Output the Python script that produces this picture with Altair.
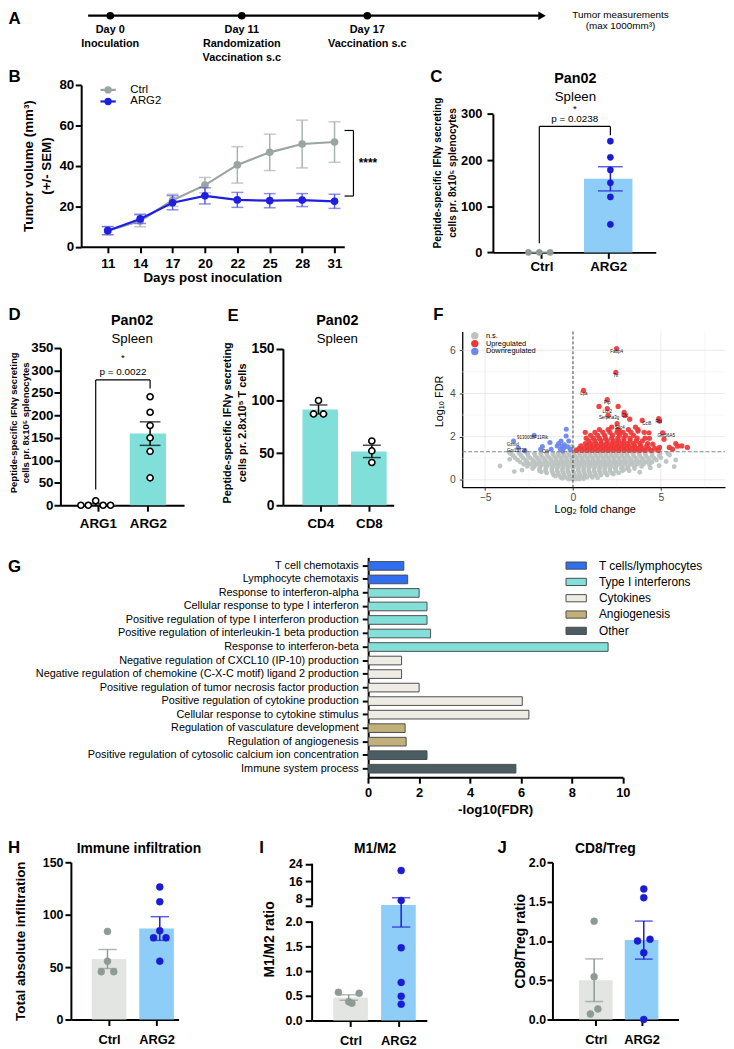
import json
import altair as alt
import pandas as pd

FONT = "Liberation Sans"
W, H = 726, 1041

# ======================= DATA =======================
# A - timeline
a_days = [0, 11, 17]
a_day_labels = ["Day 0", "Day 11", "Day 17"]
a_events = [["Inoculation"], ["Randomization", "Vaccination s.c"], ["Vaccination s.c"]]
a_end_lines = ["Tumor measurements", "(max 1000mm³)"]

# B - tumour growth
b_days = [11, 14, 17, 20, 22, 25, 28, 31]
b_ctrl_mean = [8.0, 12.8, 23.0, 30.5, 40.5, 46.7, 50.8, 51.8]
b_ctrl_sem = [2.0, 2.9, 3.0, 3.8, 9.0, 9.0, 11.8, 10.0]
b_arg2_mean = [8.0, 13.8, 21.8, 25.2, 23.2, 22.8, 23.1, 22.5]
b_arg2_sem = [2.0, 2.3, 3.5, 4.0, 3.7, 3.5, 3.2, 3.5]
b_groups = ["Ctrl", "ARG2"]
b_bracket = [57.5, 25.1]
b_sig = "****"
b_yticks = [0, 20, 40, 60, 80]

# C
c_groups = ["Ctrl", "ARG2"]
c_mean = [0.0, 159.4]
c_sem = [0.0, 26.2]
c_points = [[0, 0, 0], [241, 206, 178.5, 150.6, 120, 60.6]]
c_slots = [[-1, 0, 1], [0, 0, 0, 0, 0, 0]]
c_bracket = [273, 20, 254]
c_pvalue = "p = 0.0238"
c_yticks = [0, 100, 200, 300]

# D
d_groups = ["ARG1", "ARG2"]
d_mean = [2.0, 159.5]
d_sem = [2.0, 26.2]
d_points = [[0, 0, 10, 0, 0], [241.5, 207, 177.6, 150, 120, 61]]
d_slots = [[-2, -1, 0, 1, 2], [0, 0, 0, 0, 0, 0]]
d_bracket = [279, 35, 260]
d_pvalue = "p = 0.0022"
d_yticks = [0, 50, 100, 150, 200, 250, 300, 350]

# E
e_groups = ["CD4", "CD8"]
e_mean = [91.8, 51.6]
e_sem = [4.3, 5.9]
e_points = [[100.4, 87.5, 87.5], [61.6, 52.1, 41.0]]
e_slots = [[0, -1, 1], [0, 0, 0]]
e_yticks = [0, 50, 100, 150]

# F - volcano
f_ns_rows = {
    0.03: [-0.25, -0.05, 0.15, 0.35],
    0.12: [-0.7, -0.45, -0.2, 0.05, 0.3, 0.55, 0.8, 1.1],
    0.22: [-1.1, -0.8, -0.5, -0.2, 0.1, 0.4, 0.7, 1.0, 1.3, 1.6, 1.95],
    0.32: [-1.5, -1.15, -0.85, -0.55, -0.25, 0.05, 0.35, 0.65, 0.95, 1.25, 1.55, 1.85, 2.2, 2.6],
    0.42: [-1.9, -1.55, -1.2, -0.9, -0.6, -0.3, 0.0, 0.3, 0.6, 0.9, 1.2, 1.5, 1.8, 2.1, 2.45, 2.8, 3.2],
    0.52: [-2.3, -1.9, -1.55, -1.2, -0.9, -0.6, -0.3, 0.0, 0.3, 0.6, 0.9, 1.2, 1.5, 1.8, 2.1, 2.4, 2.75, 3.1, 3.5],
    0.62: [-2.6, -2.2, -1.85, -1.5, -1.15, -0.85, -0.55, -0.25, 0.05, 0.35, 0.65, 0.95, 1.25, 1.55, 1.85,
           2.15, 2.45, 2.8, 3.15, 3.5, 3.9],
    0.72: [-2.8, -2.4, -2.05, -1.7, -1.35, -1.0, -0.7, -0.4, -0.1, 0.2, 0.5, 0.8, 1.1, 1.4, 1.7, 2.0, 2.3,
           2.6, 2.95, 3.3, 3.65, 4.0, 4.35],
    0.82: [-3.0, -2.6, -2.2, -1.85, -1.5, -1.15, -0.85, -0.55, -0.25, 0.05, 0.35, 0.65, 0.95, 1.25, 1.55,
           1.85, 2.15, 2.45, 2.75, 3.1, 3.45, 3.8, 4.15, 4.5],
    0.92: [-3.15, -2.7, -2.3, -1.95, -1.6, -1.25, -0.95, -0.65, -0.35, -0.05, 0.25, 0.55, 0.85, 1.15, 1.45,
           1.75, 2.05, 2.35, 2.65, 2.95, 3.3, 3.65, 4.0, 4.35, 4.75],
    1.02: [-3.3, -2.85, -2.45, -2.05, -1.7, -1.35, -1.0, -0.7, -0.4, -0.1, 0.2, 0.5, 0.8, 1.1, 1.4, 1.7,
           2.0, 2.3, 2.6, 2.9, 3.2, 3.55, 3.9, 4.25, 4.6, 5.0],
    1.12: [-3.4, -2.95, -2.55, -2.15, -1.8, -1.45, -1.1, -0.8, -0.5, -0.2, 0.1, 0.4, 0.7, 1.0, 1.3, 1.6,
           1.9, 2.2, 2.5, 2.8, 3.1, 3.45, 3.8, 4.15, 4.5, 4.9],
    1.22: [-3.55, -3.05, -2.6, -2.2, -1.85, -1.5, -1.15, -0.85, -0.55, -0.25, 0.05, 0.35, 0.65, 0.95, 1.25,
           1.55, 1.85, 2.15, 2.45, 2.75, 3.05, 3.4, 3.75, 4.1, 4.5, 4.95, 5.4],
}
f_ns_extra = [(-4.15, 0.64), (-3.34, 0.38), (-2.9, 0.45), (5.76, 0.61), (5.85, 0.92), (5.3, 0.85),
              (4.9, 0.65), (4.4, 0.55), (-3.62, 1.27), (5.5, 1.15), (-0.15, 1.36), (0.1, 1.42),
              (-0.05, 1.55), (0.2, 1.35), (-3.6, 0.95), (3.8, 0.35), (-0.6, 0.07), (0.6, 0.05),
              (1.4, 0.1), (-1.0, 0.17), (2.3, 0.27), (-1.8, 0.37), (2.9, 0.47), (-2.6, 0.78)]
f_up_rows = {
    1.36: [0.2, 0.5, 0.8, 1.1, 1.4, 1.7, 2.0, 2.3, 2.6, 2.9, 3.2, 3.5, 3.8, 4.1, 4.45, 4.85],
    1.46: [0.35, 0.65, 0.95, 1.25, 1.55, 1.85, 2.15, 2.45, 2.75, 3.05, 3.35, 3.65, 3.95, 4.3, 4.65],
    1.57: [0.45, 0.8, 1.1, 1.4, 1.7, 2.0, 2.3, 2.6, 2.9, 3.2, 3.5, 3.85, 4.2],
    1.68: [0.7, 1.0, 1.3, 1.6, 1.9, 2.2, 2.5, 2.8, 3.1, 3.45, 3.8, 4.25],
    1.80: [0.9, 1.25, 1.6, 1.95, 2.3, 2.6, 2.9, 3.25, 3.6, 3.95],
    1.93: [0.75, 1.15, 1.5, 1.85, 2.2, 2.55, 2.9, 3.25, 3.65, 4.1],
    2.06: [1.0, 1.4, 1.8, 2.25, 2.65, 3.0, 3.45],
    2.20: [0.7, 1.25, 1.7, 2.1, 2.5, 2.85, 3.3, 4.05],
    2.33: [1.5, 2.0, 2.55, 3.15, 3.7],
}
f_up_extra = [(2.48, 6.08), (2.44, 4.98), (0.60, 4.14), (1.95, 3.71), (1.48, 3.40), (2.57, 3.40),
              (1.95, 3.30), (2.0, 2.99), (2.91, 3.13), (2.95, 2.98), (3.23, 2.81), (3.94, 2.75),
              (4.88, 2.84), (4.92, 2.72), (2.51, 2.60), (2.2, 2.44), (3.56, 2.44), (2.66, 2.26),
              (3.70, 2.26), (4.32, 2.18), (5.10, 2.18), (5.18, 1.88), (5.85, 1.68), (5.95, 1.56),
              (6.19, 1.57), (6.51, 1.50), (5.48, 1.50), (5.67, 1.42), (4.92, 1.50), (4.54, 1.65),
              (4.35, 1.92)]
f_down = [(-3.38, 1.80), (-3.11, 1.47), (-2.74, 1.34), (-2.21, 2.06), (-1.74, 1.54), (-1.84, 1.42),
          (-1.24, 1.42), (-1.31, 1.73), (-0.90, 1.57), (-0.68, 1.80), (-0.38, 2.34), (-0.39, 2.03),
          (-0.62, 1.57), (-0.71, 1.42), (-0.53, 1.47), (-0.30, 1.53), (-0.81, 1.68), (-0.24, 1.80),
          (-0.49, 1.62), (-0.15, 1.42), (-0.58, 1.34)]
f_genes = [("Fabp4", 2.48, 5.90), ("Ttr", 2.44, 4.82), ("Lpa", 0.62, 3.98), ("Pip", 1.95, 3.55),
           ("Lcn2", 1.95, 3.16), ("Serpina3g", 2.05, 2.84), ("Cfd", 2.95, 2.95), ("Ccl8", 4.2, 2.58),
           ("Rbl", 4.88, 2.70), ("Gm56A5", 5.3, 2.03), ("Sdc4", 2.66, 2.42),
           ("9130008F11Rik", -2.3, 1.92), ("Gzmd", -3.43, 1.63), ("Gm13738", -3.2, 1.32),
           ("Olfr", -1.55, 1.27)]
f_status = ["n.s.", "Upregulated", "Downregulated"]
f_vline = [0]
f_hline = [1.3]
f_grid_major_x = [-5, 0, 5]
f_grid_minor_x = [-2.5, 2.5, 7.5]
f_grid_major_y = [0, 2, 4, 6]
f_grid_minor_y = [1, 3, 5]

# G - GO terms
g_terms = [
    "T cell chemotaxis",
    "Lymphocyte chemotaxis",
    "Response to interferon-alpha",
    "Cellular response to type I interferon",
    "Positive regulation of type I interferon production",
    "Positive regulation of interleukin-1 beta production",
    "Response to interferon-beta",
    "Negative regulation of CXCL10 (IP-10) production",
    "Negative regulation of chemokine (C-X-C motif) ligand 2 production",
    "Positive regulation of tumor necrosis factor production",
    "Positive regulation of cytokine production",
    "Cellular response to cytokine stimulus",
    "Regulation of vasculature development",
    "Regulation of angiogenesis",
    "Positive regulation of cytosolic calcium ion concentration",
    "Immune system process",
]
g_values = [1.40, 1.55, 2.00, 2.31, 2.31, 2.45, 9.42, 1.31, 1.31, 2.00, 6.05, 6.31, 1.45, 1.49, 2.31, 5.80]
g_cat_order = ["T cells/lymphocytes", "Type I interferons", "Cytokines", "Angiogenesis", "Other"]
g_cats = ([g_cat_order[0]] * 2 + [g_cat_order[1]] * 5 + [g_cat_order[2]] * 5
          + [g_cat_order[3]] * 2 + [g_cat_order[4]] * 2)
g_xticks = [0, 2, 4, 6, 8, 10]

# H
h_groups = ["Ctrl", "ARG2"]
h_mean = [57.7, 86.8]
h_sem = [9.1, 11.3]
h_points = [[84, 55.7, 45.6, 45.6], [126.4, 112.3, 84.6, 78, 78, 55.7]]
h_slots = [[0, 0, -1, 1], [0, 0, 0, -1, 1, 0]]
h_yticks = [0, 50, 100, 150]

# I
i_groups = ["Ctrl", "ARG2"]
i_mean = [0.465, 5.21]
i_sem = [0.055, 3.32]
i_points = [[0.57, 0.55, 0.38, 0.35], [20.9, 7.3, 1.47, 0.77, 0.49, 0.33]]
i_slots = [[-1, 1, 0, 0.3], [0, 0, 0, 0, 0, 0]]
i_break = [2, 5]
i_yticks = [0, 0.5, 1.0, 1.5, 2.0, 5, 8, 16, 24]

# J
j_groups = ["Ctrl", "ARG2"]
j_mean = [0.50, 1.01]
j_sem = [0.271, 0.242]
j_points = [[1.25, 0.545, 0.135, 0.07], [1.66, 1.55, 1.02, 1.0, 0.85, 0.0]]
j_slots = [[0, 0, 0.6, -0.6], [0, 0, 1, -1, 0, 0]]
j_yticks = [0, 0.5, 1.0, 1.5, 2.0]

# ======================= STYLE =======================
C_CTRL_PT = "#8e9a96"
C_ARG2_PT = "#1b1bd6"
C_CTRL_BAR = "#e2e5e2"
C_ARG2_BAR = "#8dcdf7"
C_TEAL = "#80e0d9"
B_CTRL = "#9aa4a0"
B_ARG2 = "#1f1fe0"
B_CTRL_ERR = "#aab2af"
B_ARG2_ERR = "#5c5ce6"
G_COLORS = ["#2f6ef0", "#82e0d9", "#edede5", "#c2b07a", "#4c5c63"]
F_COLORS = ["#bcc3c0", "#ef3535", "#6d87f0"]


def P(v):
    return round(v - 8, 2)


def lin(domain, page_range):
    return alt.Scale(domain=list(domain), range=[P(v) for v in page_range],
                     nice=False, zero=False, clamp=False)


def axis(orient, page_pos, **kw):
    opts = dict(orient=orient, grid=False, title=None, domainColor="black", domainWidth=2,
                tickColor="black", tickWidth=2, tickSize=6, labelColor="black", labelFont=FONT,
                labelFontSize=13, labelFontWeight="bold", labelPadding=3, labelOverlap=False,
                labelFlush=False, labelLimit=800)
    opts["offset"] = -P(page_pos) if orient == "left" else P(page_pos) - H
    opts.update(kw)
    return alt.Axis(**opts)


ONE = pd.DataFrame({"k": [0]})


def label(text, x, y, size, weight="normal", align="center", baseline="middle", angle=None,
          color="black", lh=None):
    kw = dict(text=text, font=FONT, fontSize=size, fontWeight=weight, align=align,
              baseline=baseline, color=color)
    if angle is not None:
        kw["angle"] = angle
    if lh is not None:
        kw["lineHeight"] = lh
    return alt.Chart(ONE).mark_text(**kw).encode(x=alt.value(P(x)), y=alt.value(P(y)))


def dotbar(groups, means, sems, points, slots, L):
    n = len(groups)
    xs = lin(L["xdom"], L["xpx"])
    ys = lin(L["ydom"], L["ypx"])
    ppu = (L["xpx"][1] - L["xpx"][0]) / (L["xdom"][1] - L["xdom"][0])
    slot_u = L["slot_px"] / ppu
    bars = pd.DataFrame({"i": list(range(n)), "mean": means,
                         "lo": [m - s for m, s in zip(means, sems)],
                         "hi": [m + s for m, s in zip(means, sems)],
                         "barc": L["bar_colors"], "errc": L["err_colors"]})
    rows = []
    for i, (vals, sl) in enumerate(zip(points, slots)):
        for v, s in zip(vals, sl):
            rows.append({"i": i, "v": v, "xp": i + s * slot_u,
                         "fill": L["pt_fill"][i], "stroke": L["pt_stroke"][i]})
    pts = pd.DataFrame(rows)
    xaxis = axis("bottom", L["ypx"][0], values=list(range(n)),
                 labelExpr=json.dumps(groups) + "[datum.value]",
                 labelFontSize=L["xlab"], labelPadding=L["xpad"], tickSize=L["xtick"])
    yopts = dict(values=L["yticks"], labelFontSize=L["ylab"], labelPadding=L["ypad"],
                 tickSize=L["ytick"])
    if "ylabelExpr" in L:
        yopts["labelExpr"] = L["ylabelExpr"]
    elif "yfmt" in L:
        yopts["format"] = L["yfmt"]
    if L.get("broken"):
        yopts["domain"] = False
    yaxis = axis("left", L["xpx"][0], **yopts)
    bar = alt.Chart(bars).mark_bar(size=L["bar_w"]).encode(
        x=alt.X("i:Q", scale=xs, axis=xaxis),
        y=alt.Y("mean:Q", scale=ys, axis=yaxis),
        color=alt.Color("barc:N", scale=None))
    err = alt.Chart(bars).mark_rule(strokeWidth=L["err_w"]).encode(
        x=alt.X("i:Q", scale=xs, axis=None),
        y=alt.Y("lo:Q", scale=ys, axis=None), y2="hi:Q",
        color=alt.Color("errc:N", scale=None))
    caps = [alt.Chart(bars).mark_tick(orient="horizontal", size=L["cap"], thickness=L["err_w"]).encode(
        x=alt.X("i:Q", scale=xs, axis=None),
        y=alt.Y(f"{c}:Q", scale=ys, axis=None),
        color=alt.Color("errc:N", scale=None)) for c in ("lo", "hi")]
    pt = alt.Chart(pts).mark_point(filled=True, size=L["pt_size"], strokeWidth=L["pt_sw"], opacity=1).encode(
        x=alt.X("xp:Q", scale=xs, axis=None),
        y=alt.Y("v:Q", scale=ys, axis=None),
        fill=alt.Fill("fill:N", scale=None),
        stroke=alt.Stroke("stroke:N", scale=None))
    layers = [bar, err] + caps + [pt]
    if L.get("broken"):
        segs = pd.DataFrame({"y": [L["ydom"][0], L["ydom"][2]], "y2": [L["ydom"][1], L["ydom"][-1]]})
        layers.insert(0, alt.Chart(segs).mark_rule(strokeWidth=2, color="black").encode(
            x=alt.value(P(L["xpx"][0])),
            y=alt.Y("y:Q", scale=ys, axis=None), y2="y2:Q"))
    return layers, xs, ys


def bracket(br, ptext, text_y, star_y, xs, ys, size=10):
    segs = pd.DataFrame({"x": [0, 0, 1], "x2": [1, 0, 1], "y": [br[0]] * 3, "y2": [br[0], br[1], br[2]]})
    rule = alt.Chart(segs).mark_rule(color="black", strokeWidth=1.2).encode(
        x=alt.X("x:Q", scale=xs, axis=None), x2="x2:Q",
        y=alt.Y("y:Q", scale=ys, axis=None), y2="y2:Q")
    tdf = pd.DataFrame({"x": [0.5, 0.5], "y": [text_y, star_y], "t": [ptext, "*"]})
    txt = alt.Chart(tdf).mark_text(font=FONT, fontSize=size, baseline="middle").encode(
        x=alt.X("x:Q", scale=xs, axis=None), y=alt.Y("y:Q", scale=ys, axis=None), text="t:N")
    return [rule, txt]


panels = []

# ---------------- A ----------------
a_scale = lin(a_days, [111.4, 244.4, 371.3])
a_rows = []
for d, lab, ev in zip(a_days, a_day_labels, a_events):
    for k, t in enumerate([lab] + ev):
        a_rows.append({"day": d, "ln": k, "txt": t})
a_df = pd.DataFrame(a_rows)
A_Y = 10
panels += [
    alt.Chart(ONE).mark_rule(color="black", strokeWidth=2.3).encode(
        x=alt.value(P(89)), x2=alt.value(P(546)), y=alt.value(P(A_Y))),
    alt.Chart(ONE).mark_point(shape="triangle-right", filled=True, size=75, color="black", opacity=1).encode(
        x=alt.value(P(548)), y=alt.value(P(A_Y))),
    alt.Chart(pd.DataFrame({"day": a_days})).mark_circle(size=60, color="black", opacity=1).encode(
        x=alt.X("day:Q", scale=a_scale, axis=None), y=alt.value(P(A_Y))),
    alt.Chart(a_df).mark_text(font=FONT, fontSize=11, fontWeight="bold", baseline="middle").encode(
        x=alt.X("day:Q", scale=a_scale, axis=None),
        y=alt.Y("ln:Q", scale=lin([0, 2], [24, 52.7]), axis=None),
        text="txt:N"),
    label(a_end_lines, 627.3, 9.5, 10, lh=11.2),
]

# ---------------- B ----------------
b_x = lin([-0.82, 7.30], [82, 348])
b_y = lin([0, 80], [243.7, 80])
b_xaxis = axis("bottom", 243.7, values=list(range(len(b_days))),
               labelExpr=json.dumps([str(d) for d in b_days]) + "[datum.value]",
               labelFontSize=13.5, labelPadding=4)
b_yaxis = axis("left", 82, values=b_yticks, labelFontSize=13.5, labelPadding=1.5)


def b_group(mean, sem, line_c, err_c, first):
    df = pd.DataFrame({"idx": list(range(len(b_days))), "mean": mean,
                       "lo": [m - s for m, s in zip(mean, sem)],
                       "hi": [m + s for m, s in zip(mean, sem)]})
    base = alt.Chart(df)
    err = base.mark_rule(color=err_c, strokeWidth=1.5).encode(
        x=alt.X("idx:Q", scale=b_x, axis=b_xaxis if first else None),
        y=alt.Y("lo:Q", scale=b_y, axis=b_yaxis if first else None), y2="hi:Q")
    caps = [base.mark_tick(orient="horizontal", size=12, thickness=1.5, color=err_c).encode(
        x=alt.X("idx:Q", scale=b_x, axis=None), y=alt.Y(f"{c}:Q", scale=b_y, axis=None))
        for c in ("lo", "hi")]
    line = base.mark_line(color=line_c, strokeWidth=2.2).encode(
        x=alt.X("idx:Q", scale=b_x, axis=None), y=alt.Y("mean:Q", scale=b_y, axis=None))
    pts = base.mark_circle(color=line_c, size=60, opacity=1).encode(
        x=alt.X("idx:Q", scale=b_x, axis=None), y=alt.Y("mean:Q", scale=b_y, axis=None))
    return [err] + caps + [line, pts]


panels += b_group(b_ctrl_mean, b_ctrl_sem, B_CTRL, B_CTRL_ERR, True)
panels += b_group(b_arg2_mean, b_arg2_sem, B_ARG2, B_ARG2_ERR, False)
b_br = pd.DataFrame({"y": [b_bracket[0], b_bracket[0], b_bracket[1]],
                     "y2": [b_bracket[1], b_bracket[0], b_bracket[1]],
                     "x": [P(357.3), P(348.3), P(348.3)], "x2": [P(357.3), P(357.3), P(357.3)]})
panels.append(alt.Chart(b_br).mark_rule(color="black", strokeWidth=1.2).encode(
    x=alt.X("x:Q", scale=None, axis=None), x2="x2:Q",
    y=alt.Y("y:Q", scale=b_y, axis=None), y2="y2:Q"))
panels.append(alt.Chart(pd.DataFrame({"y": [sum(b_bracket) / 2], "t": [b_sig]})).mark_text(
    font=FONT, fontSize=12, fontWeight="bold", baseline="middle").encode(
    x=alt.value(P(372)), y=alt.Y("y:Q", scale=b_y, axis=None), text="t:N"))

# B legend
bl_df = pd.DataFrame({"g": b_groups, "c": [B_CTRL, B_ARG2]})
bl_y = alt.Scale(type="point", domain=b_groups, range=[P(85), P(96.7)], padding=0)
panels += [
    alt.Chart(bl_df).mark_rule(strokeWidth=2.2).encode(
        x=alt.value(P(101.5)), x2=alt.value(P(117)), y=alt.Y("g:N", scale=bl_y, axis=None),
        color=alt.Color("c:N", scale=None)),
    alt.Chart(bl_df).mark_circle(size=55, opacity=1).encode(
        x=alt.value(P(109.2)), y=alt.Y("g:N", scale=bl_y, axis=None), color=alt.Color("c:N", scale=None)),
    alt.Chart(bl_df).mark_text(font=FONT, fontSize=11.5, align="left", baseline="middle").encode(
        x=alt.value(P(131.7)), y=alt.Y("g:N", scale=bl_y, axis=None), text="g:N"),
]

# ---------------- C ----------------
LC = dict(xdom=[-0.653, 1.639], xpx=[498.3, 663], ydom=[0, 300], ypx=[249.3, 109.3], yticks=c_yticks,
          bar_w=49, cap=25, slot_px=11, bar_colors=[C_CTRL_BAR, C_ARG2_BAR],
          err_colors=[C_CTRL_PT, C_ARG2_PT], pt_fill=[C_CTRL_PT, C_ARG2_PT], pt_stroke=[C_CTRL_PT, C_ARG2_PT],
          pt_size=40, pt_sw=0.5, err_w=1.5, ylab=13, xlab=13.5, ytick=6, ypad=5, xtick=6, xpad=1.5)
c_layers, c_xs, c_ys = dotbar(c_groups, c_mean, c_sem, c_points, c_slots, LC)
panels += c_layers + bracket(c_bracket, c_pvalue, 288, 311, c_xs, c_ys)

# ---------------- D ----------------
LD = dict(xdom=[-0.649, 1.624], xpx=[61, 186], ydom=[0, 350], ypx=[505, 346], yticks=d_yticks,
          bar_w=36.7, cap=21, slot_px=7.5, bar_colors=[C_TEAL, C_TEAL], err_colors=["black", "black"],
          pt_fill=["white", "white"], pt_stroke=["black", "black"], pt_size=38, pt_sw=1.6, err_w=1.5,
          ylab=13.5, xlab=13.5, ytick=6.5, ypad=1, xtick=6, xpad=5)
d_layers, d_xs, d_ys = dotbar(d_groups, d_mean, d_sem, d_points, d_slots, LD)
panels += d_layers + bracket(d_bracket, d_pvalue, 296, 327, d_xs, d_ys)

# ---------------- E ----------------
LE = dict(xdom=[-0.667, 1.41], xpx=[286, 398], ydom=[0, 150], ypx=[505, 346.7], yticks=e_yticks,
          bar_w=36, cap=18, slot_px=5, bar_colors=[C_TEAL, C_TEAL], err_colors=["black", "black"],
          pt_fill=["white", "white"], pt_stroke=["black", "black"], pt_size=38, pt_sw=1.6, err_w=1.5,
          ylab=14, xlab=13.5, ytick=7, ypad=2, xtick=6, xpad=5)
e_layers, _, _ = dotbar(e_groups, e_mean, e_sem, e_points, e_slots, LE)
panels += e_layers

# ---------------- F ----------------
fx = lin([-6.30, 8.65], [467.3, 733])
fy = lin([-0.34, 6.87], [486.7, 329.3])
f_common = dict(domainWidth=1.3, tickWidth=1, tickSize=3, tickColor="#333333", labelColor="#4d4d4d",
                labelFontWeight="normal", labelFontSize=10.5)
f_xaxis = axis("bottom", 486.7, values=f_grid_major_x, labelPadding=2, **f_common)
f_yaxis = axis("left", 467.3, values=f_grid_major_y, labelPadding=4, **f_common)
panels += [
    alt.Chart(pd.DataFrame({"g": f_grid_minor_x})).mark_rule(color="#f2f2f2", strokeWidth=0.6).encode(
        x=alt.X("g:Q", scale=fx, axis=None), y=alt.value(P(329.3)), y2=alt.value(P(486.7))),
    alt.Chart(pd.DataFrame({"g": f_grid_minor_y})).mark_rule(color="#f2f2f2", strokeWidth=0.6).encode(
        y=alt.Y("g:Q", scale=fy, axis=None), x=alt.value(P(467.3)), x2=alt.value(P(733))),
    alt.Chart(pd.DataFrame({"g": f_grid_major_x})).mark_rule(color="#e4e4e4", strokeWidth=0.8).encode(
        x=alt.X("g:Q", scale=fx, axis=f_xaxis), y=alt.value(P(329.3)), y2=alt.value(P(486.7))),
    alt.Chart(pd.DataFrame({"g": f_grid_major_y})).mark_rule(color="#e4e4e4", strokeWidth=0.8).encode(
        y=alt.Y("g:Q", scale=fy, axis=f_yaxis), x=alt.value(P(467.3)), x2=alt.value(P(733))),
]
f_color = alt.Scale(domain=f_status, range=F_COLORS)
f_ns = [(x, y) for y, xs_ in f_ns_rows.items() for x in xs_] + f_ns_extra
f_up = [(x, y) for y, xs_ in f_up_rows.items() for x in xs_] + f_up_extra
f_legend = alt.Legend(orient="none", legendX=P(476), legendY=P(329.5), title=None, symbolType="circle",
                      symbolSize=55, symbolStrokeWidth=0, labelFont=FONT, labelFontSize=7.5,
                      labelOffset=7.2, rowPadding=0, padding=0, symbolOpacity=1, labelColor="black")
for k, (pts_, sz, op) in enumerate([(f_ns, 24, 0.95), (f_up, 28, 0.92), (f_down, 26, 0.95)]):
    df = pd.DataFrame({"x": [p[0] for p in pts_], "y": [p[1] for p in pts_], "s": f_status[k]})
    panels.append(alt.Chart(df).mark_circle(size=sz, opacity=op).encode(
        x=alt.X("x:Q", scale=fx, axis=None), y=alt.Y("y:Q", scale=fy, axis=None),
        color=alt.Color("s:N", scale=f_color, legend=f_legend if k == 0 else None)))
panels.append(alt.Chart(pd.DataFrame({"v": f_vline})).mark_rule(
    color="#222222", strokeWidth=0.8, strokeDash=[3, 2]).encode(
    x=alt.X("v:Q", scale=fx, axis=None), y=alt.value(P(329.3)), y2=alt.value(P(486.7))))
panels.append(alt.Chart(pd.DataFrame({"v": f_hline})).mark_rule(
    color="#777777", strokeWidth=0.9, strokeDash=[4, 2]).encode(
    y=alt.Y("v:Q", scale=fy, axis=None), x=alt.value(P(467.3)), x2=alt.value(P(733))))
f_gdf = pd.DataFrame({"t": [g[0] for g in f_genes], "x": [g[1] for g in f_genes], "y": [g[2] for g in f_genes]})
panels.append(alt.Chart(f_gdf).mark_text(font=FONT, fontSize=4.5, color="#111111", baseline="middle").encode(
    x=alt.X("x:Q", scale=fx, axis=None), y=alt.Y("y:Q", scale=fy, axis=None), text="t:N"))

# ---------------- G ----------------
g_df = pd.DataFrame({"term": g_terms, "v": g_values, "cat": g_cats})
gx = lin([0, 10], [372.2, 629.7])
gy = alt.Scale(domain=g_terms, range=[P(557.7), P(780)], paddingInner=0.36, paddingOuter=0.31)
g_legend = alt.Legend(orient="none", legendX=P(576.5), legendY=P(560), title=None,
                      symbolType="M-2.94,-1.04H2.94V1.04H-2.94Z", symbolSize=49,
                      symbolStrokeColor="#4d4d4d", symbolStrokeWidth=1, labelFont=FONT,
                      labelFontSize=12, labelColor="black", labelOffset=17, rowPadding=4.5, padding=0,
                      symbolOpacity=1)
panels.append(alt.Chart(g_df).mark_bar(stroke="#4d4d4d", strokeWidth=1).encode(
    x=alt.X("v:Q", scale=gx, axis=axis("bottom", 780, values=g_xticks, labelFontSize=13, labelPadding=3)),
    y=alt.Y("term:N", scale=gy, sort=None,
            axis=axis("left", 372.2, labelFontWeight="normal", labelFontSize=11, labelPadding=4)),
    color=alt.Color("cat:N", scale=alt.Scale(domain=g_cat_order, range=G_COLORS), legend=g_legend)))

# ---------------- H / I / J ----------------
hij_common = dict(bar_colors=[C_CTRL_BAR, C_ARG2_BAR], err_colors=[C_CTRL_PT, C_ARG2_PT],
                  pt_fill=[C_CTRL_PT, C_ARG2_PT], pt_stroke=[C_CTRL_PT, C_ARG2_PT], pt_size=50, pt_sw=0.5,
                  err_w=1.5, ylab=12.5, xlab=13, xtick=6, xpad=8.5)
LH = dict(xdom=[-0.70, 1.36], xpx=[71.6, 180.5], ydom=[0, 150], ypx=[1025, 866], yticks=h_yticks,
          bar_w=35, cap=18.5, slot_px=6.3, ytick=6, ypad=2, **hij_common)
panels += dotbar(h_groups, h_mean, h_sem, h_points, h_slots, LH)[0]

LI = dict(xdom=[-0.70, 1.49], xpx=[315.5, 431.5], ydom=[0, i_break[0], i_break[1], 24],
          ypx=[1026, 926, 909.7, 867.5], yticks=i_yticks, bar_w=35, cap=18.5, slot_px=10.5,
          ytick=7, ypad=3, broken=True,
          ylabelExpr="datum.value == 5 ? '' : (datum.value <= 2 ? format(datum.value, '.1f') : format(datum.value, 'd'))",
          **hij_common)
panels += dotbar(i_groups, i_mean, i_sem, i_points, i_slots, LI)[0]

LJ = dict(xdom=[-0.84, 1.70], xpx=[558.5, 686], ydom=[0, 2], ypx=[1025, 866], yticks=j_yticks,
          bar_w=34, cap=18, slot_px=6.3, ytick=5.5, ypad=1.5, yfmt=".1f", **hij_common)
panels += dotbar(j_groups, j_mean, j_sem, j_points, j_slots, LJ)[0]

# ---------------- texts: letters, titles, axis titles ----------------
for letter, x, y in [("A", 8.5, 18), ("B", 8.5, 77), ("C", 435, 77), ("D", 8.5, 318), ("E", 230, 319),
                     ("F", 438, 318), ("G", 8, 572), ("H", 8, 857), ("I", 262, 857), ("J", 503, 857)]:
    panels.append(label(letter, x, y, 17, weight="bold", align="left", baseline="alphabetic"))

for t, x, y, s, w in [
    ("Pan02", 581.7, 78.3, 14.5, "bold"), ("Spleen", 581.7, 96, 13.4, "normal"),
    ("Pan02", 133.5, 323, 14.5, "bold"), ("Spleen", 133.5, 341, 13.4, "normal"),
    ("Pan02", 341, 323, 14.5, "bold"), ("Spleen", 341, 341, 13.4, "normal"),
]:
    panels.append(label(t, x, y, s, weight=w, baseline="alphabetic"))
for t, x in [("Immune infiltration", 140.4), ("M1/M2", 379.2), ("CD8/Treg", 612)]:
    panels.append(label(t, x, 852.7, 14, weight="bold"))

ifn_title = ["Peptide-specific IFNγ secreting"]
panels += [
    label("Days post inoculation", 215, 275, 13.5, weight="bold"),
    label(["Tumor volume (mm³)", "(+/- SEM)"], 29, 162, 13.5, weight="bold", angle=270, lh=18),
    label(ifn_title + ["cells pr. 8x10⁵ splenocytes"], 442.5, 169, 10.3, weight="bold", angle=270, lh=15),
    label(ifn_title + ["cells pr. 8x10⁵ splenocytes"], 14.5, 421.7, 9.6, weight="bold", angle=270, lh=12),
    label(ifn_title + ["cells pr. 2.8x10⁵ T cells"], 230, 421.7, 11, weight="bold", angle=270, lh=16),
    label("Log₁₀ FDR", 445, 400, 11, angle=270),
    label("Log₂ fold change", 601.7, 510, 11),
    label("-log10(FDR)", 501, 813, 13.4, weight="bold"),
    label("Total absolute infiltration", 21, 945.8, 13.6, weight="bold", angle=270),
    label("M1/M2 ratio", 273.3, 944, 14, weight="bold", angle=270),
    label("CD8/Treg ratio", 526.7, 945.8, 14, weight="bold", angle=270),
]

chart = alt.layer(*panels).resolve_scale(
    x="independent", y="independent", color="independent"
).properties(
    width=W, height=H, padding=0, autosize=alt.AutoSizeParams(type="none"), background="white"
).configure(font=FONT).configure_view(stroke=None)

chart.save("out.html", embed_options={"renderer": "svg", "actions": False})
